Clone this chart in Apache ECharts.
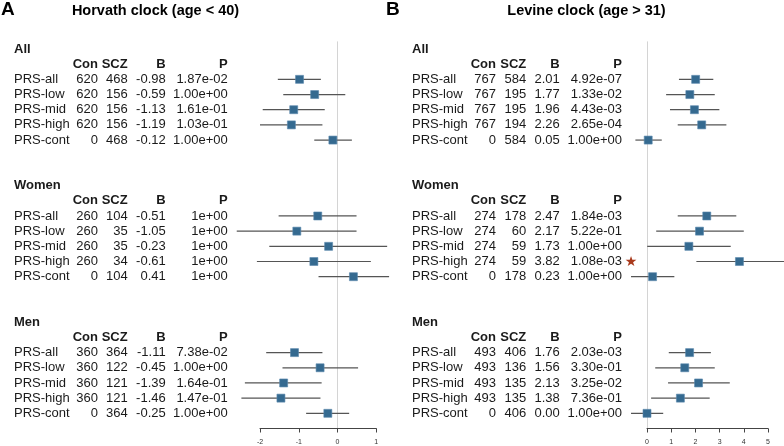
<!DOCTYPE html>
<html>
<head>
<meta charset="utf-8">
<script src="https://cdn.jsdelivr.net/npm/echarts@6/dist/echarts.min.js"></script>
<style>html,body{margin:0;padding:0;background:#fff}#c{width:784px;height:446px}</style>
</head>
<body>
<div id="c"></div>
<script>
// ---- Data ----
const groups = ['All', 'Women', 'Men'];
const rowLabels = ['PRS-all', 'PRS-low', 'PRS-mid', 'PRS-high', 'PRS-cont'];
const headers = ['Con', 'SCZ', 'B', 'P'];
const titles = ['Horvath clock (age < 40)', 'Levine clock (age > 31)'];
const panelLetters = ['A', 'B'];
const horvathTicks = [-2, 1];
const levineTicks = [0, 5];

// Horvath (panel A): All x5, Women x5, Men x5
const horvathCon = [620, 620, 620, 620, 0, 260, 260, 260, 260, 0, 360, 360, 360, 360, 0];
const horvathSCZ = [468, 156, 156, 156, 468, 104, 35, 35, 34, 104, 364, 122, 121, 121, 364];
const horvathB = [-0.98, -0.59, -1.13, -1.19, -0.12, -0.51, -1.05, -0.23, -0.61, 0.41, -1.11, -0.45, -1.39, -1.46, -0.25];
const horvathP = ['1.87e-02', '1.00e+00', '1.61e-01', '1.03e-01', '1.00e+00', '1e+00', '1e+00', '1e+00', '1e+00', '1e+00', '7.38e-02', '1.00e+00', '1.64e-01', '1.47e-01', '1.00e+00'];
const horvathLo = [-1.54, -1.40, -1.93, -2.00, -0.60, -1.52, -2.60, -1.76, -2.08, -0.49, -1.84, -1.42, -2.39, -2.48, -0.81];
const horvathHi = [-0.43, 0.20, -0.33, -0.39, 0.37, 0.49, 0.49, 1.28, 0.86, 1.33, -0.39, 0.53, -0.41, -0.44, 0.30];
const horvathStar = [0, 0, 0, 0, 0, 0, 0, 0, 0, 0, 0, 0, 0, 0, 0];

// Levine (panel B)
const levineCon = [767, 767, 767, 767, 0, 274, 274, 274, 274, 0, 493, 493, 493, 493, 0];
const levineSCZ = [584, 195, 195, 194, 584, 178, 60, 59, 59, 178, 406, 136, 135, 135, 406];
const levineB = [2.01, 1.77, 1.96, 2.26, 0.05, 2.47, 2.17, 1.73, 3.82, 0.23, 1.76, 1.56, 2.13, 1.38, 0.00];
const levineP = ['4.92e-07', '1.33e-02', '4.43e-03', '2.65e-04', '1.00e+00', '1.84e-03', '5.22e-01', '1.00e+00', '1.08e-03', '1.00e+00', '2.03e-03', '3.30e-01', '3.25e-02', '7.36e-01', '1.00e+00'];
const levineLo = [1.32, 0.79, 0.95, 1.27, -0.48, 1.27, 0.38, 0.01, 2.04, -0.66, 0.90, 0.34, 0.87, 0.17, -0.66];
const levineHi = [2.74, 2.80, 2.99, 3.28, 0.61, 3.69, 4.00, 3.46, 5.70, 1.13, 2.64, 2.80, 3.42, 2.59, 0.67];
const levineStar = [0, 0, 0, 0, 0, 0, 0, 0, 1, 0, 0, 0, 0, 0, 0];

// ---- Layout ----
const FONT = '"Liberation Sans", Arial, Helvetica, sans-serif';
const TXT = '#1a1a1a';
const ROWS_PER_GROUP = 9;
function rowIndex(g, i) { return g * ROWS_PER_GROUP + 2 + i; }

function buildTable(con, scz, b, p, star) {
  const items = [];
  groups.forEach((gname, g) => {
    items.push({ y: g * ROWS_PER_GROUP, kind: 'group', text: gname });
    items.push({ y: g * ROWS_PER_GROUP + 1, kind: 'header' });
    rowLabels.forEach((lab, i) => {
      const k = g * 5 + i;
      items.push({ y: rowIndex(g, i), kind: 'row', cells: [lab, String(con[k]), String(scz[k]), b[k].toFixed(2), p[k]], star: star[k] });
    });
  });
  return items;
}
function buildForest(lo, hi, b) {
  const d = [];
  groups.forEach((gname, g) => {
    rowLabels.forEach((lab, i) => {
      const k = g * 5 + i;
      d.push([lo[k], hi[k], b[k], rowIndex(g, i)]);
    });
  });
  return d;
}

const tableA = buildTable(horvathCon, horvathSCZ, horvathB, horvathP, horvathStar);
const tableB = buildTable(levineCon, levineSCZ, levineB, levineP, levineStar);

// column x positions (label left, others right-aligned)
const colsA = [14, 98, 127.7, 165.7, 227.7];
const colsB = [412, 496, 526.3, 559.7, 622];

function tableRenderer(items, cols) {
  return function (params, api) {
    const it = items[params.dataIndex];
    const y = api.coord([api.value(0), api.value(1)])[1];
    const children = [];
    const mk = (text, x, align, bold) => ({
      type: 'text', x: x, y: y,
      style: { text: text, fill: TXT, fontSize: 13, fontWeight: bold ? 'bold' : 'normal', fontFamily: FONT, align: align, verticalAlign: 'middle' }
    });
    if (it.kind === 'group') {
      children.push(mk(it.text, cols[0], 'left', true));
    } else if (it.kind === 'header') {
      headers.forEach((h, j) => children.push(mk(h, cols[j + 1], 'right', true)));
    } else {
      children.push(mk(it.cells[0], cols[0], 'left', false));
      for (let j = 1; j < 5; j++) children.push(mk(it.cells[j], cols[j], 'right', false));
      if (it.star) {
        children.push({ type: 'text', x: cols[4] + 9, y: y + 1,
          style: { text: '★', fill: '#a93a1c', fontSize: 14, fontFamily: '"DejaVu Sans", sans-serif', align: 'center', verticalAlign: 'middle' } });
      }
    }
    return { type: 'group', children: children };
  };
}

function forestRender(params, api) {
  const y = api.value(3);
  const p1 = api.coord([api.value(0), y]);
  const p2 = api.coord([api.value(1), y]);
  const pc = api.coord([api.value(2), y]);
  return {
    type: 'group', children: [
      { type: 'line', shape: { x1: p1[0], y1: p1[1], x2: p2[0], y2: p2[1] }, style: { stroke: '#555', lineWidth: 1.2 } },
      { type: 'rect', shape: { x: pc[0] - 4, y: pc[1] - 4, width: 8, height: 8 }, style: { fill: '#356a90', stroke: '#5a88ad', lineWidth: 0.6 } }
    ]
  };
}

const axisCommon = {
  type: 'value', interval: 1,
  axisLine: { show: true, onZero: false, lineStyle: { color: '#444', width: 1 } },
  axisTick: { show: true, length: 4, lineStyle: { color: '#444' } },
  axisLabel: { fontSize: 7, color: '#333', margin: 10, fontFamily: FONT },
  splitLine: { show: false }
};
const yCommon = { type: 'value', inverse: true, min: -0.5, max: 25, show: false };
const zeroLine = {
  silent: true, z: 0, symbol: ['none', 'none'], label: { show: false },
  lineStyle: { color: '#d4d4d4', width: 1, type: 'solid' },
  data: [{ xAxis: 0 }]
};

const chart = echarts.init(document.getElementById('c'), null, { renderer: 'canvas' });
chart.setOption({
  animation: false,
  grid: [
    { left: 260, width: 116.3, top: 41.4, height: 387.1 },
    { left: 647, width: 121, top: 41.4, height: 387.1 }
  ],
  xAxis: [
    Object.assign({}, axisCommon, { gridIndex: 0, min: horvathTicks[0], max: horvathTicks[1] }),
    Object.assign({}, axisCommon, { gridIndex: 1, min: levineTicks[0], max: levineTicks[1] })
  ],
  yAxis: [
    Object.assign({ gridIndex: 0 }, yCommon),
    Object.assign({ gridIndex: 1 }, yCommon)
  ],
  graphic: [
    { type: 'text', left: 1, top: 0, style: { text: panelLetters[0], fontSize: 19, fontWeight: 'bold', fontFamily: FONT, fill: '#000' } },
    { type: 'text', left: 386, top: 0, style: { text: panelLetters[1], fontSize: 19, fontWeight: 'bold', fontFamily: FONT, fill: '#000' } },
    { type: 'text', x: 155.5, y: 11, style: { text: titles[0], fontSize: 14.5, fontWeight: 'bold', fontFamily: FONT, fill: '#000', align: 'center', verticalAlign: 'middle' } },
    { type: 'text', x: 586.5, y: 11, style: { text: titles[1], fontSize: 14.5, fontWeight: 'bold', fontFamily: FONT, fill: '#000', align: 'center', verticalAlign: 'middle' } }
  ],
  series: [
    { type: 'custom', xAxisIndex: 0, yAxisIndex: 0, clip: false, z: 1, renderItem: tableRenderer(tableA, colsA),
      data: tableA.map(it => [0, it.y]), encode: { x: 0, y: 1 }, markLine: zeroLine },
    { type: 'custom', xAxisIndex: 1, yAxisIndex: 1, clip: false, z: 1, renderItem: tableRenderer(tableB, colsB),
      data: tableB.map(it => [0, it.y]), encode: { x: 0, y: 1 }, markLine: zeroLine },
    { type: 'custom', xAxisIndex: 0, yAxisIndex: 0, clip: false, z: 3, renderItem: forestRender,
      data: buildForest(horvathLo, horvathHi, horvathB), encode: { x: [0, 1, 2], y: 3 } },
    { type: 'custom', xAxisIndex: 1, yAxisIndex: 1, clip: false, z: 3, renderItem: forestRender,
      data: buildForest(levineLo, levineHi, levineB), encode: { x: [0, 1, 2], y: 3 } }
  ]
});
</script>
</body>
</html>
